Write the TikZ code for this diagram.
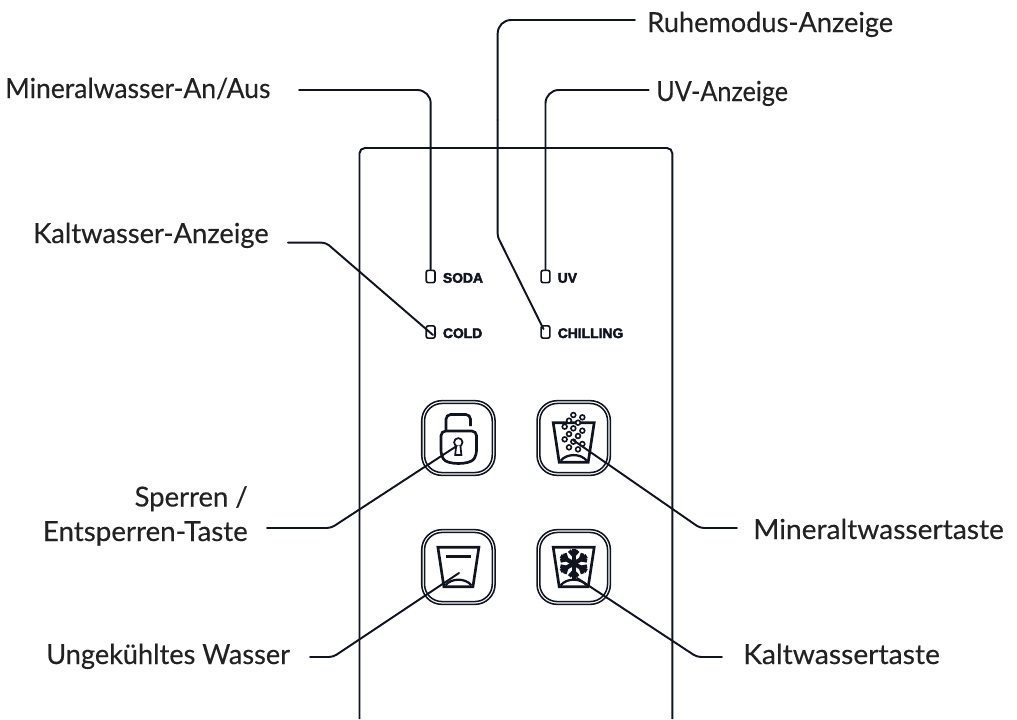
\documentclass[tikz,border=0pt]{standalone}
\usepackage{fontspec}
\usepackage{graphicx}
\setmainfont{Lato}[FakeBold=0.25,FakeStretch=0.975]
\newfontfamily\ledfont{Liberation Sans}[BoldFeatures={FakeBold=3}]
\usetikzlibrary{calc}
\definecolor{ink}{HTML}{10141F}
\definecolor{txt}{HTML}{222222}
\tikzset{
  x=0.75pt,y=-0.75pt,
  lbl/.style={font=\fontsize{20.7pt}{24pt}\selectfont,text=txt,inner sep=0pt,anchor=base west},
  lblr/.style={font=\fontsize{20.7pt}{24pt}\selectfont,text=txt,inner sep=0pt,anchor=base east},
  ledbox/.style={draw=ink,line width=1.25pt,rounded corners=1.5pt,minimum width=6.6pt,minimum height=9.2pt,inner sep=0pt},
  ledlbl/.style={font=\ledfont\bfseries\fontsize{10.4pt}{12pt}\selectfont,text=ink,inner sep=0pt,anchor=base west},
  conn/.style={draw=ink,line width=1.45pt,line cap=round},
  panel/.style={draw=ink,line width=1.45pt},
  btnout/.style={draw=ink,line width=1.15pt,rounded corners=15pt,minimum width=55pt,minimum height=56pt,inner sep=0pt},
  btnin/.style={draw=ink,line width=1.15pt,rounded corners=13pt,minimum width=50.8pt,minimum height=51.8pt,inner sep=0pt},
  glyph/.style={draw=ink,line width=2pt,line join=miter},
  bub/.style={draw=ink,line width=1.2pt},
}
\newcommand{\cupshape}[2]{% centre x, top y
  \draw[glyph] (#1-20.5,#2) -- (#1+20.5,#2) -- (#1+14.5,#2+39.5) -- (#1-14.5,#2+39.5) -- cycle;
  \draw[glyph,line width=1.7pt] (#1-13,#2+38) .. controls (#1-7,#2+30.5) and (#1+7,#2+30.5) .. (#1+13,#2+38);
}
\begin{document}
\begin{tikzpicture}
\useasboundingbox (0,0) rectangle (1017,719);
% panel
\draw[panel,rounded corners=4pt] (359.5,719) -- (359.5,148) -- (672.3,148) -- (672.3,719);
% buttons
\node[btnout] (b1) at (458.4,438) {};
\node[btnin]  (b1i) at (458.4,438) {};
\node[btnout] (b2) at (573.7,438) {};
\node[btnin]  (b2i) at (573.7,438) {};
\node[btnout] (b3) at (458.4,567) {};
\node[btnin]  (b3i) at (458.4,567) {};
\node[btnout] (b4) at (573.7,567) {};
\node[btnin]  (b4i) at (573.7,567) {};
% lock
\draw[glyph,rounded corners=3.5pt] (441,431) -- (476.5,431) -- (476.5,455) .. controls (470,465) and (447,465) .. (441,455) -- cycle;
\draw[glyph,rounded corners=3.5pt] (446,431) -- (446,414.5) -- (470.5,414.5) -- (470.5,426);
\draw[ink,line width=1.3pt] (458.3,442.3) circle[radius=4.2];
\draw[ink,line width=1.3pt,fill=white] (456.2,445.5) -- (455.2,455) -- (461.4,455) -- (460.4,445.5);
% bubbly cup
\cupshape{573.7}{422.7}
\foreach \px/\py in {520/105,547/112,507/122,534/128,494/140,520/145,547/152,507/162,534/168,494/178,520/185,547/192,507/202,534/208}
  \draw[bub,fill=white] ({400+\px/3},{380+\py/3}) circle[radius=2.4];
% plain cup
\cupshape{458.4}{547.3}
\draw[ink,line width=2.1pt] (445.7,556.7) -- (471,556.7);
% snow cup
\cupshape{573.7}{547.3}
\foreach \a in {0,60,...,300}{
  \draw[ink,line width=3.2pt] (573.7,563.5) -- ++(\a+30:15);
  \draw[ink,line width=2.8pt] ($(573.7,563.5)+(\a+30:8)$) -- ++(\a+72:6.5);
  \draw[ink,line width=2.8pt] ($(573.7,563.5)+(\a+30:8)$) -- ++(\a-12:6.5);
}
% LEDs
\node[ledbox] (lsoda) at (430.6,276.5) {};
\node[ledbox] (luv)   at (545.5,276.5) {};
\node[ledbox] (lcold) at (430.6,332) {};
\node[ledbox] (lchil) at (545.5,332) {};
\node[ledlbl] (tsoda) at (442.7,282.7) {SODA};
\node[ledlbl] (tuv)   at (557.5,282.7) {UV};
\node[ledlbl] (tcold) at (442.7,338) {COLD};
\node[ledlbl] (tchil) at (557.5,338) {CHILLING};
% labels
\node[lbl]  (tMin) at (5,98) {\scalebox{0.985}[1]{Mineralwasser-An/Aus}};
\node[lbl]  (tKal) at (33,243) {\scalebox{1.015}[1]{Kaltwasser-Anzeige}};
\node[lbl]  (tRuh) at (647,32) {\scalebox{1.01}[1]{Ruhemodus-Anzeige}};
\node[lbl]  (tUV)  at (656,101) {\scalebox{0.935}[1]{UV-Anzeige}};
\node[lblr] (tSp1) at (248,506.5) {\scalebox{1.02}[1]{Sperren /}};
\node[lblr] (tSp2) at (248,541) {\scalebox{1.03}[1]{Entsperren-Taste}};
\node[lbl]  (tMt)  at (753,539) {\scalebox{1.046}[1]{Mineraltwassertaste}};
\node[lbl]  (tUng) at (46,664) {\scalebox{1.008}[1]{Ungekühltes Wasser}};
\node[lbl]  (tKt)  at (743,664) {\scalebox{1.05}[1]{Kaltwassertaste}};
% free ends
\coordinate (sMin) at (299,90);
\coordinate (sKal) at (288,242.7);
\coordinate (sRuh) at (635,20);
\coordinate (sUV)  at (648.7,90);
\coordinate (sSp)  at (267,528);
\coordinate (sMt)  at (737,528);
\coordinate (sUng) at (310,657);
\coordinate (sKt)  at (722,657);
\coordinate (eCold) at (433,335);
\coordinate (eChil) at (543.5,329);
\coordinate (eLock) at (456.7,446);
\coordinate (eBub) at (573,440);
\coordinate (ePl) at (459,573);
\coordinate (eSn) at (577,578);
% connectors
\draw[conn,rounded corners=10pt] (sMin) -- (430.7,90) -- (lsoda.north);
\draw[conn,rounded corners=10pt] (sUV) -- (545.5,90) -- (luv.north);
\draw[conn,rounded corners=10pt] (sRuh) -- (497.7,20) -- (497.7,120);
\draw[conn,rounded corners=2pt] (497.7,120) -- (497.7,236.7) -- (eChil);
\draw[conn,rounded corners=3pt] (sKal) -- (326,242.7) -- (eCold);
\draw[conn,rounded corners=3pt] (sSp) -- (331,528) -- (eLock);
\draw[conn,rounded corners=3pt] (sMt) -- (700,528) -- (eBub);
\draw[conn,rounded corners=3pt] (sUng) -- (333,657) -- (ePl);
\draw[conn,rounded corners=3pt] (sKt) -- (697,657) -- (eSn);
\end{tikzpicture}
\end{document}
